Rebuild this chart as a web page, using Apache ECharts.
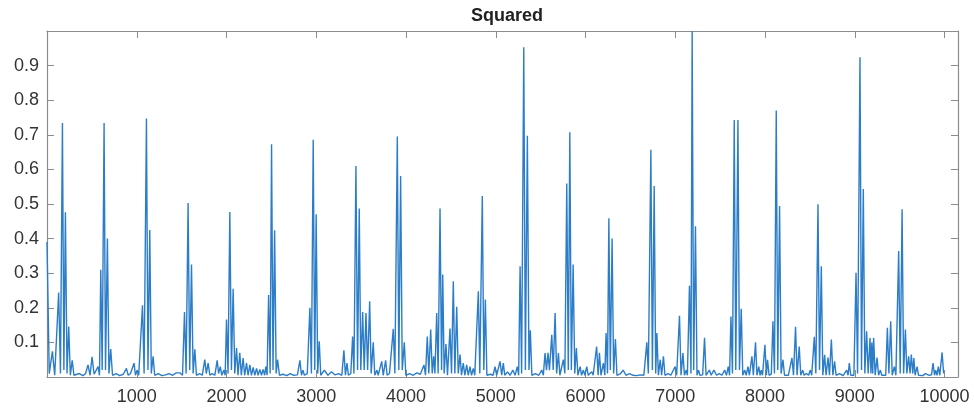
<!DOCTYPE html>
<html>
<head>
<meta charset="utf-8">
<script src="https://cdn.jsdelivr.net/npm/echarts@6/dist/echarts.min.js"></script>
<style>
  html, body { margin: 0; padding: 0; background: #fff; }
  #chart { width: 974px; height: 412px; }
</style>
</head>
<body>
<div id="chart"></div>
<script>
// sample positions (x) and the squared signal there (y)
const xs = [
  0,25,60,86,130,150,172,188,205,223,
  242,260,281,300,320,360,400,430,457,480,
  502,525,569,585,599,615,636,652,673,690,
  710,730,770,810,850,885,905,930,950,970,
  985,1005,1022,1064,1082,1108,1125,1145,1162,1182,
  1200,1240,1280,1320,1360,1400,1440,1480,1510,1532,
  1550,1572,1590,1610,1628,1647,1665,1700,1730,1758,
  1775,1795,1815,1840,1870,1896,1912,1931,1948,1970,
  1985,2000,2017,2037,2055,2074,2092,2112,2128,2148,
  2165,2185,2202,2223,2240,2260,2278,2297,2315,2335,
  2352,2372,2390,2408,2425,2438,2452,2469,2486,2502,
  2518,2536,2553,2569,2590,2630,2670,2710,2750,2790,
  2818,2835,2851,2868,2900,2912,2929,2946,2966,2983,
  2999,3016,3033,3050,3090,3130,3170,3210,3250,3285,
  3308,3325,3342,3358,3385,3405,3420,3442,3460,3479,
  3496,3517,3534,3554,3572,3595,3612,3635,3652,3676,
  3690,3729,3746,3773,3790,3816,3835,3858,3876,3903,
  3920,3940,3958,3981,3998,4040,4080,4120,4160,4182,
  4200,4217,4237,4254,4275,4292,4308,4322,4342,4358,
  4379,4396,4409,4425,4445,4462,4490,4507,4527,4544,
  4565,4582,4602,4618,4638,4655,4676,4693,4713,4730,
  4750,4766,4788,4806,4822,4850,4867,4884,4901,4940,
  4970,4992,5010,5048,5066,5084,5100,5130,5160,5190,
  5215,5240,5255,5271,5288,5312,5330,5352,5370,5385,
  5402,5440,5480,5512,5530,5549,5565,5582,5598,5624,
  5640,5661,5678,5698,5714,5735,5753,5770,5791,5808,
  5825,5842,5862,5880,5898,5915,5940,5956,5976,5992,
  6014,6030,6070,6085,6124,6140,6155,6172,6199,6215,
  6229,6245,6260,6276,6296,6313,6333,6350,6390,6420,
  6450,6490,6530,6570,6610,6650,6683,6700,6728,6745,
  6765,6782,6795,6812,6832,6848,6868,6885,6920,6950,
  6999,7015,7047,7064,7085,7102,7122,7135,7158,7175,
  7188,7205,7225,7242,7259,7275,7305,7326,7343,7380,
  7400,7430,7460,7490,7520,7550,7570,7590,7605,7620,
  7637,7657,7674,7698,7715,7735,7752,7774,7790,7810,
  7826,7854,7870,7894,7910,7930,7945,7958,7972,7999,
  8015,8028,8045,8070,8088,8105,8125,8142,8162,8179,
  8200,8217,8237,8260,8300,8317,8340,8357,8381,8398,
  8420,8436,8460,8485,8504,8520,8549,8566,8590,8607,
  8627,8644,8664,8680,8702,8718,8739,8756,8775,8792,
  8830,8870,8910,8925,8939,8955,8972,8990,9014,9031,
  9058,9075,9095,9112,9132,9149,9170,9180,9190,9200,
  9210,9227,9248,9265,9285,9300,9322,9345,9363,9380,
  9400,9417,9441,9458,9489,9506,9527,9544,9564,9580,
  9600,9616,9630,9646,9658,9672,9694,9710,9730,9760,
  9786,9830,9855,9872,9888,9901,9916,9931,9947,9973,
  9990
];
const ys = [
  .39,.01,.074,.005,.244,.01,.734,.02,.476,.01,
  .146,.005,.048,.005,.006,.01,.004,.01,.035,.005,
  .058,.008,.03,.005,.31,.02,.734,.02,.40,.01,
  .081,.005,.01,.004,.008,.025,.005,.01,.005,.04,
  .005,.02,.005,.207,.01,.747,.02,.425,.01,.06,
  .005,.01,.004,.006,.01,.005,.012,.012,.005,.188,
  .01,.503,.02,.325,.01,.08,.005,.01,.005,.05,
  .01,.04,.005,.01,.005,.048,.01,.03,.005,.02,
  .005,.166,.01,.477,.02,.255,.01,.084,.005,.07,
  .005,.055,.005,.04,.005,.035,.005,.028,.005,.025,
  .005,.022,.005,.022,.005,.03,.005,.237,.01,.673,
  .02,.424,.01,.05,.005,.008,.004,.01,.005,.006,
  .048,.005,.02,.005,.01,.005,.2,.01,.686,.02,
  .47,.01,.103,.005,.02,.005,.015,.006,.01,.005,
  .077,.005,.04,.005,.01,.117,.01,.61,.02,.487,
  .02,.188,.02,.185,.02,.219,.01,.10,.005,.02,
  .005,.045,.005,.048,.005,.01,.005,.139,.01,.695,
  .02,.581,.02,.1,.005,.01,.005,.012,.008,.005,
  .035,.005,.117,.01,.137,.01,.06,.01,.185,.01,
  .487,.02,.296,.01,.095,.005,.14,.01,.277,.01,
  .203,.01,.065,.005,.04,.005,.035,.005,.03,.005,
  .025,.005,.01,.248,.01,.523,.02,.224,.005,.008,
  .005,.03,.005,.045,.005,.04,.005,.015,.005,.02,
  .005,.03,.005,.32,.01,.953,.02,.697,.02,.135,
  .005,.01,.005,.02,.005,.069,.02,.07,.02,.122,
  .02,.185,.01,.069,.005,.01,.05,.01,.559,.02,
  .707,.02,.325,.01,.084,.005,.03,.005,.02,.005,
  .03,.005,.015,.005,.088,.005,.07,.005,.04,.005,
  .127,.01,.459,.02,.40,.01,.11,.005,.01,.02,
  .005,.01,.005,.004,.006,.005,.1,.01,.657,.02,
  .552,.01,.127,.005,.05,.005,.06,.005,.01,.005,
  .03,.005,.177,.005,.069,.005,.02,.005,.264,.01,
  1.0,.02,.436,.005,.02,.005,.006,.113,.005,.02,
  .005,.02,.005,.01,.005,.02,.005,.03,.005,.175,
  .01,.743,.02,.743,.02,.197,.005,.02,.005,.03,
  .005,.06,.005,.1,.005,.03,.005,.02,.005,.093,
  .005,.05,.005,.008,.161,.01,.77,.02,.494,.01,
  .05,.005,.01,.005,.055,.005,.145,.005,.088,.005,
  .02,.005,.01,.005,.02,.005,.116,.01,.499,.02,
  .32,.005,.064,.005,.056,.005,.108,.005,.045,.005,
  .01,.004,.02,.005,.04,.005,.01,.005,.301,.01,
  .924,.02,.543,.01,.132,.01,.113,.01,.1,.01,
  .113,.005,.056,.005,.02,.005,.01,.005,.142,.01,
  .161,.005,.03,.005,.364,.01,.485,.01,.137,.01,
  .06,.01,.065,.01,.055,.005,.03,.005,.01,.004,
  .01,.005,.006,.04,.005,.02,.005,.03,.005,.071,
  .01
];
const xTicks = [1000,2000,3000,4000,5000,6000,7000,8000,9000,10000];
const yTicks = [0.1,0.2,0.3,0.4,0.5,0.6,0.7,0.8,0.9];

const FONT = 'Liberation Sans, Helvetica, Arial, sans-serif';
const AXIS_COLOR = '#8c8c8c';

let points = xs.map((x, i) => [x, ys[i]]);

function drawLine(ele) {
    var dom = document.getElementById(ele);
    var myChart = echarts.init(dom, null, { renderer: 'canvas' });

    let baseX = {
        type: 'value',
        min: 0,
        max: 10150,
        interval: 1000,
        splitLine: { show: false },
        axisLine: { show: true, onZero: false, lineStyle: { color: AXIS_COLOR, width: 1.2 } },
        axisTick: { show: true, inside: true, length: 7, lineStyle: { color: AXIS_COLOR } }
    };
    let baseY = {
        type: 'value',
        min: 0,
        max: 1,
        interval: 0.1,
        splitLine: { show: false },
        axisLine: { show: true, onZero: false, lineStyle: { color: AXIS_COLOR, width: 1.2 } },
        axisTick: { show: true, inside: true, length: 7, lineStyle: { color: AXIS_COLOR } }
    };

    let option = {
        animation: false,
        title: {
            text: 'Squared',
            left: 502,
            textAlign: 'center',
            top: 2,
            textStyle: { fontFamily: FONT, fontWeight: 'bold', fontSize: 18, color: '#222' }
        },
        grid: { left: 47, right: 16, top: 31, bottom: 35 },
        xAxis: [
            Object.assign({}, baseX, {
                position: 'bottom',
                axisLabel: {
                    margin: 11,
                    fontFamily: FONT,
                    fontSize: 18,
                    color: '#333',
                    formatter: v => xTicks.includes(v) ? String(v) : ''
                }
            }),
            Object.assign({}, baseX, { position: 'top', axisLabel: { show: false } })
        ],
        yAxis: [
            Object.assign({}, baseY, {
                position: 'left',
                axisLabel: {
                    margin: 8,
                    fontFamily: FONT,
                    fontSize: 18,
                    color: '#333',
                    formatter: v => yTicks.some(t => Math.abs(t - v) < 1e-9) ? v.toFixed(1) : ''
                }
            }),
            Object.assign({}, baseY, { position: 'right', axisLabel: { show: false } })
        ],
        series: [
            {
                name: 'Squared',
                type: 'line',
                data: points,
                showSymbol: false,
                sampling: null,
                lineStyle: { color: '#2c7dc8', width: 1.4 },
                itemStyle: { color: '#2c7dc8' }
            }
        ]
    };
    myChart.setOption(option, true);
    return { chart: myChart, option: option };
}

drawLine('chart');
</script>
</body>
</html>
